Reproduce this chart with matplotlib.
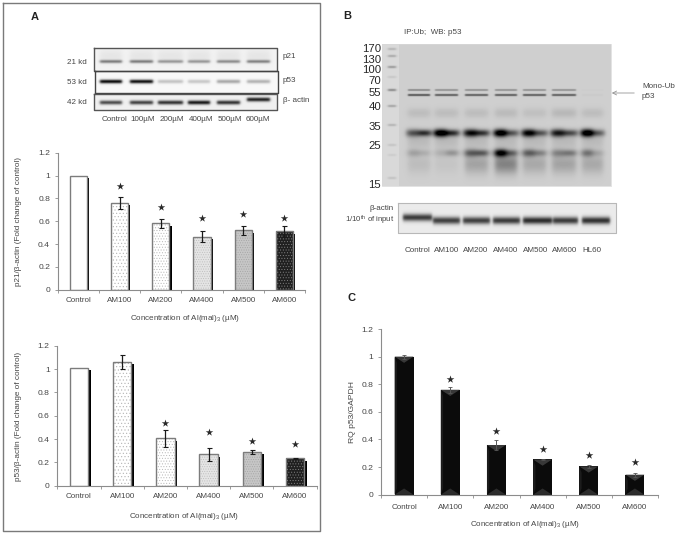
import numpy as np
import matplotlib
matplotlib.use('Agg')
import matplotlib.pyplot as plt

plt.rcParams['font.family'] = ['Liberation Sans', 'DejaVu Sans']
plt.rcParams['mathtext.fontset'] = 'custom'
plt.rcParams['mathtext.rm'] = 'Liberation Sans'
plt.rcParams['mathtext.default'] = 'regular'
plt.rcParams['hatch.linewidth'] = 0.4

W, H = 678, 536
TXT = '#454545'
AXC = '#8c8c8c'
FS = 5.8

# bar charts
categories = ['Control', 'AM100', 'AM200', 'AM400', 'AM500', 'AM600']
yticks = [0, 0.2, 0.4, 0.6, 0.8, 1, 1.2]
ytick_labels = ['0', '0.2', '0.4', '0.6', '0.8', '1', '1.2']

p21_vals = [1.0, 0.76, 0.58, 0.465, 0.52, 0.51]
p21_errs = [0, 0.055, 0.04, 0.047, 0.037, 0.045]
p21_stars = [None, 0.908, 0.727, 0.63, 0.663, 0.63]

p53_vals = [1.01, 1.06, 0.405, 0.27, 0.29, 0.235]
p53_errs = [0, 0.06, 0.075, 0.055, 0.015, 0.006]
p53_stars = [None, None, 0.54, 0.463, 0.386, 0.354]

rq_vals = [1.0, 0.76, 0.36, 0.255, 0.205, 0.145]
rq_errs = [0.015, 0.02, 0.035, 0.003, 0.01, 0.015]
rq_stars = [None, 0.84, 0.46, 0.33, 0.285, 0.235]

# fill of the bars in panel A
bar_faces = ['white', 'white', 'white', '#e4e4e4', '#c6c6c6', '#202020']
bar_hatches = [None, '.....', '......', '.......', '.......', '......']
hatch_colors = ['white', '#b4b4b4', '#b8b8b8', '#bcbcbc', '#a4a4a4', '#808080']

# blot band strengths per lane
p21_bands = [0.42, 0.42, 0.32, 0.32, 0.36, 0.4]
p53_bands = [0.9, 0.88, 0.2, 0.18, 0.3, 0.26]
actin_a_bands = [0.62, 0.66, 0.72, 0.82, 0.72, 0.78]
mono_upper = [0.28, 0.25, 0.25, 0.25, 0.25, 0.25, 0.01]
mono_lower = [0.48, 0.45, 0.45, 0.45, 0.45, 0.45, 0.02]
faint_band = [0.07, 0.07, 0.07, 0.08, 0.06, 0.09, 0.07]
heavy_left = [0.3, 0.8, 0.62, 0.8, 0.68, 0.55, 0.85]
heavy_right = [0.45, 0.45, 0.42, 0.28, 0.28, 0.32, 0.25]
lower_left = [0.16, 0.1, 0.42, 0.85, 0.42, 0.26, 0.34]
lower_right = [0.1, 0.22, 0.42, 0.36, 0.26, 0.3, 0.12]
smear_band = [0.07, 0.04, 0.17, 0.3, 0.15, 0.17, 0.15]
actin_b_bands = [0.68, 0.66, 0.66, 0.68, 0.74, 0.68, 0.72]
ladder_sizes = [0.14, 0.18, 0.24, 0.07, 0.3, 0.2, 0.14, 0.08, 0.05, 0.09]


def px_axes(l, t, r, b):
    return fig.add_axes([l / W, 1 - b / H, (r - l) / W, (b - t) / H])


def band(img, ext, x0, x1, y, sy, amp, soft=2.0):
    xx = np.arange(ext[0], ext[1]) + 0.5
    yy = np.arange(ext[2], ext[3]) + 0.5
    gx = 0.25 * (1 + np.tanh((xx - x0) / soft)) * (1 + np.tanh((x1 - xx) / soft))
    gy = np.exp(-((yy - y) / sy) ** 2 / 2)
    img -= amp * np.outer(gy, gx)


def show_blot(img, ext, edge, lw=1.0):
    canvas.imshow(np.clip(img, 0, 1), extent=(ext[0], ext[1], ext[3], ext[2]),
                  cmap='gray', vmin=0, vmax=1, aspect='auto', interpolation='bilinear', zorder=1)
    canvas.plot([ext[0], ext[1], ext[1], ext[0], ext[0]], [ext[2], ext[2], ext[3], ext[3], ext[2]],
                color=edge, lw=lw, zorder=2)


def style_axes(ax, labels_pad):
    ax.set_xlim(-0.5, 5.5)
    ax.set_ylim(0, 1.2)
    ax.patch.set_alpha(0)
    for s in ['top', 'right']:
        ax.spines[s].set_visible(False)
    for s in ['left', 'bottom']:
        ax.spines[s].set_color(AXC)
        ax.spines[s].set_linewidth(0.8)
    ax.set_xticks(range(6), categories)
    ax.set_xticks(np.arange(-0.5, 6), minor=True)
    ax.set_yticks(yticks, ytick_labels)
    ax.tick_params(axis='x', which='major', length=0, pad=labels_pad, labelsize=FS, labelcolor=TXT)
    ax.tick_params(axis='x', which='minor', length=2.2, width=0.6, color=AXC)
    ax.tick_params(axis='y', length=2.5, width=0.6, color=AXC, pad=3, labelsize=FS + 0.3, labelcolor=TXT)


def shadow_bars(ax, vals, errs, stars, width, off, drop):
    pos = np.arange(6)
    ax.bar(pos + off, np.array(vals) - drop, width, color='black', zorder=1)
    for i in pos:
        ax.bar(i, vals[i], width, color=bar_faces[i], hatch=bar_hatches[i],
               edgecolor=hatch_colors[i], linewidth=0, zorder=2)
    ax.bar(pos, vals, width, fill=False, edgecolor='#7c7c7c', linewidth=1.0, zorder=3)
    show = [i for i in pos if errs[i] > 0]
    ax.errorbar(show, [vals[i] for i in show], yerr=[errs[i] for i in show], fmt='none',
                ecolor='#1a1a1a', elinewidth=0.9, capsize=1.8, capthick=0.8, zorder=4)
    sx = [i for i in pos if stars[i] is not None]
    ax.scatter(sx, [stars[i] for i in sx], marker='*', s=32, color='#2a2a2a', linewidths=0, zorder=4)


fig = plt.figure(figsize=(W / 100, H / 100), dpi=100)
canvas = fig.add_axes([0, 0, 1, 1])
canvas.axis('off')

# panel A frame
canvas.plot([3, 320, 320, 3, 3], [3, 3, 530.5, 530.5, 3], color='#7a7a7a', lw=1.0, zorder=1)

# panel A blots
lanes_a = [(100, 122), (130, 153), (158, 183), (188, 210), (217, 240), (247, 270)]

ext = (94, 277, 48, 71)
img = np.full((ext[3] - ext[2], ext[1] - ext[0]), 0.95)
for (x0, x1), a in zip(lanes_a, p21_bands):
    band(img, ext, x0, x1, 61.5, 1.2, a, 1.5)
    band(img, ext, x0, x1, 56, 5, 0.05, 3)
show_blot(img, ext, '#555555')

ext = (95, 278, 71, 93)
img = np.full((ext[3] - ext[2], ext[1] - ext[0]), 0.97)
for (x0, x1), a in zip(lanes_a, p53_bands):
    band(img, ext, x0, x1, 81.5, 1.4, a, 1.5)
show_blot(img, ext, '#444444')

ext = (94, 277, 94, 110)
img = np.full((ext[3] - ext[2], ext[1] - ext[0]), 0.94)
for i, ((x0, x1), a) in enumerate(zip(lanes_a, actin_a_bands)):
    band(img, ext, x0, x1, 99.5 if i == 5 else 102.5, 1.5, a, 1.5)
show_blot(img, ext, '#555555')

for y, s in zip([63, 82, 102.5], ['21 kd', '53 kd', '42 kd']):
    canvas.text(67, y, s, fontsize=FS, color=TXT, va='center', zorder=3)
for y, s in zip([56, 81, 101], ['p21', 'p53', '\u03b2- actin']):
    canvas.text(283, y, s, fontsize=FS, color=TXT, va='center', zorder=3)
for x, s in zip([114, 143, 172, 201, 230, 258], ['Control', '100\u00b5M', '200\u00b5M', '400\u00b5M', '500\u00b5M', '600\u00b5M']):
    canvas.text(x, 119.5, s, fontsize=FS, color=TXT, ha='center', va='center', zorder=3)

# panel B blot
lanes_b = [(408, 430), (435, 458), (465, 488), (495, 517), (523, 546), (552, 576), (582, 603)]
ext = (382, 611, 44, 186)
img = np.full((ext[3] - ext[2], ext[1] - ext[0]), 0.81)
img[:, :17] = 0.85
for i, (x0, x1) in enumerate(lanes_b):
    mid = (x0 + x1) / 2
    band(img, ext, x0, x1, 90, 0.7, mono_upper[i], 1.0)
    band(img, ext, x0, x1, 95, 0.8, mono_lower[i], 1.0)
    band(img, ext, x0, x1, 113, 3.5, faint_band[i], 3)
    band(img, ext, x0 - 2, x1 + 2, 133, 2.8, 0.18, 2)
    band(img, ext, x0, mid, 133, 2.8, heavy_left[i], 3.5)
    band(img, ext, mid, x1, 133, 2.2, heavy_right[i], 3.5)
    band(img, ext, x0, mid, 153, 2.8, lower_left[i], 3.5)
    band(img, ext, mid, x1, 153, 2.4, lower_right[i], 3.5)
    band(img, ext, x0, x1, 141, 6, 0.08, 3)
    band(img, ext, x0, x1, 164, 7, smear_band[i], 3)
for y, a in zip([49, 56, 67, 77, 90, 106, 125, 145, 155, 178], ladder_sizes):
    band(img, ext, 388, 396, y, 0.9, a, 1.5)
show_blot(img, ext, '#d8d8d8', 0.5)

lanes_act = [(403, 432), (433, 460), (463, 490), (493, 520), (523, 552), (553, 578), (582, 610)]
ext = (398, 616, 203, 233)
img = np.full((ext[3] - ext[2], ext[1] - ext[0]), 0.92)
for i, ((x0, x1), a) in enumerate(zip(lanes_act, actin_b_bands)):
    band(img, ext, x0, x1, 217.5 if i == 0 else 220.5, 2.6, a, 1.5)
show_blot(img, ext, '#b8b8b8', 0.8)

mw_labels = ['170', '130', '100', '70', '55', '40', '35', '25', '15']
mw_y = [49, 60, 70, 81, 93, 107, 127, 146, 185]
for y, s in zip(mw_y, mw_labels):
    canvas.text(381, y, s, fontsize=8.2, color='#262626', ha='right', va='center', zorder=3)

canvas.text(404, 33, 'IP:Ub;  WB: p53', fontsize=FS, color=TXT, va='center', zorder=3)
canvas.annotate('', xy=(609, 93), xytext=(637, 93), zorder=3,
                arrowprops=dict(arrowstyle='->', color='#949494', lw=0.6, mutation_scale=7))
canvas.text(642, 87, 'Mono-Ub', fontsize=FS, color=TXT, va='center', zorder=3)
canvas.text(642, 97, 'p53', fontsize=FS, color=TXT, va='center', zorder=3)
canvas.text(394, 208.5, '\u03b2-actin', fontsize=FS, color=TXT, ha='right', va='center', zorder=3)
canvas.text(394, 220, '1/10$^{th}$ of input', fontsize=FS - 0.2, color=TXT, ha='right', va='center', zorder=3)
b_lanes = ['Control', 'AM100', 'AM200', 'AM400', 'AM500', 'AM600', 'HL60']
for x, s in zip([417.7, 447, 476, 506, 535.7, 565, 592], b_lanes):
    canvas.text(x, 250, s, fontsize=FS, color=TXT, ha='center', va='center', zorder=3)

for x, y, s in [(35, 17, 'A'), (347, 16, 'B'), (352, 298, 'C')]:
    canvas.text(x, y, s, fontsize=8, fontweight='bold', color='#222222', ha='center', va='center', zorder=3)

canvas.set_xlim(0, W)
canvas.set_ylim(H, 0)

xlab = 'Concentration of Al(mal)$_3$ (\u00b5M)'

# p21 chart
ax1 = px_axes(57.7, 152.7, 305, 289.7)
style_axes(ax1, 5.5)
shadow_bars(ax1, p21_vals, p21_errs, p21_stars, 0.42, 0.055, 0.02)
ax1.set_xlabel(xlab, fontsize=FS, color=TXT, va='center')
ax1.xaxis.set_label_coords(185, 318, transform=canvas.transData)
ax1.set_ylabel('p21/\u03b2-actin (Fold change of control)', fontsize=FS + 0.1, color=TXT, va='center')
ax1.yaxis.set_label_coords(19, 222, transform=canvas.transData)

# p53 chart
ax2 = px_axes(57.3, 345.7, 316.7, 485.7)
style_axes(ax2, 5.5)
shadow_bars(ax2, p53_vals, p53_errs, p53_stars, 0.43, 0.055, 0.02)
ax2.set_xlabel(xlab, fontsize=FS, color=TXT, va='center')
ax2.xaxis.set_label_coords(184, 516.7, transform=canvas.transData)
ax2.set_ylabel('p53/\u03b2-actin (Fold change of control)', fontsize=FS + 0.1, color=TXT, va='center')
ax2.yaxis.set_label_coords(19, 416, transform=canvas.transData)

# RQ chart
ax3 = px_axes(381, 329, 658, 494.7)
style_axes(ax3, 6.5)
w3 = 0.41
pos3 = np.arange(6)
ax3.bar(pos3, rq_vals, w3, color='#0b0b0b', zorder=1)
dy = 0.045
for i in pos3:
    v = rq_vals[i]
    ax3.fill([i - w3 / 2, i + w3 / 2, i], [v, v, v - dy], color='#383838', lw=0, zorder=2)
    ax3.fill([i - w3 / 2, i + w3 / 2, i], [0, 0, dy], color='#2c2c2c', lw=0, zorder=2)
    ax3.fill([i - w3 / 2, i - w3 / 2 + 0.05, i - w3 / 2 + 0.05, i - w3 / 2], [0, dy, v - dy, v],
             color='#1c1c1c', lw=0, zorder=2)
ax3.errorbar(pos3, rq_vals, yerr=[np.array(rq_errs), np.array(rq_errs)], fmt='none', ecolor='#555555',
             elinewidth=0.7, capsize=1.5, capthick=0.6, zorder=3)
sx = [i for i in pos3 if rq_stars[i] is not None]
ax3.scatter(sx, [rq_stars[i] for i in sx], marker='*', s=34, color='#2a2a2a', linewidths=0, zorder=4)
ax3.set_xlabel(xlab, fontsize=FS, color=TXT, va='center')
ax3.xaxis.set_label_coords(525, 525, transform=canvas.transData)
ax3.set_ylabel('RQ p53/GAPDH', fontsize=FS + 0.3, color=TXT, va='center')
ax3.yaxis.set_label_coords(353, 412, transform=canvas.transData)

fig.savefig('out.png', dpi=100)
